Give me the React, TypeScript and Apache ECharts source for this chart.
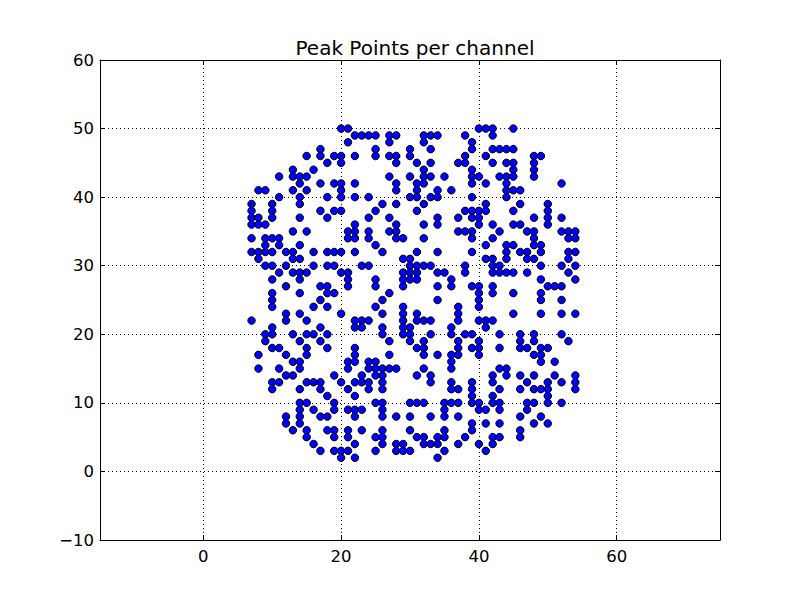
import React, { useEffect, useRef } from "react";
import * as echarts from "echarts";

// Peak points: for each y level, the x channels that hold a peak
const y50 = [20, 21, 40, 41, 42, 45];
const y49 = [22, 23, 24, 25, 27, 28, 32, 33, 34, 38, 42];
const y48 = [21, 27, 32, 39];
const y47 = [17, 25, 30, 33, 39, 42, 43, 44, 45];
const y46 = [15, 17, 19, 20, 22, 25, 27, 28, 30, 38, 41, 48, 49];
const y45 = [18, 20, 28, 31, 33, 37, 38, 42, 44, 45, 48];
const y44 = [13, 16, 32, 39, 45, 48];
const y43 = [11, 13, 14, 15, 27, 30, 32, 33, 35, 39, 40, 43, 44, 45, 48];
const y42 = [14, 17, 19, 20, 22, 28, 31, 32, 39, 41, 44, 52];
const y41 = [8, 9, 13, 15, 20, 28, 31, 34, 36, 44, 45, 46];
const y40 = [11, 14, 18, 20, 22, 24, 30, 31, 33, 34, 39, 44];
const y39 = [7, 10, 14, 26, 28, 32, 41, 46, 50];
const y38 = [7, 10, 17, 19, 20, 25, 31, 38, 39, 40, 41, 45, 50];
const y37 = [7, 8, 10, 14, 18, 24, 27, 34, 37, 39, 40, 48, 50, 52];
const y36 = [7, 8, 9, 22, 28, 32, 34, 40, 42, 45, 46, 50];
const y35 = [13, 15, 21, 22, 24, 27, 28, 37, 38, 39, 43, 47, 48, 52, 53, 54];
const y34 = [7, 9, 10, 11, 21, 22, 24, 28, 29, 32, 39, 42, 48, 53, 54];
const y33 = [9, 11, 14, 25, 41, 44, 45, 48, 49];
const y32 = [7, 8, 9, 10, 12, 13, 16, 18, 19, 20, 22, 26, 31, 34, 39, 44, 46, 47, 49, 53, 54];
const y31 = [8, 13, 14, 29, 30, 41, 42, 44, 47, 48, 53];
const y30 = [9, 10, 12, 16, 18, 19, 23, 24, 30, 31, 32, 33, 38, 42, 43, 49, 52, 54];
const y29 = [11, 13, 14, 15, 20, 21, 29, 30, 31, 34, 35, 38, 42, 43, 44, 45, 47, 53];
const y28 = [10, 14, 21, 25, 29, 30, 31, 36, 49, 54];
const y27 = [12, 17, 18, 21, 25, 29, 34, 36, 39, 40, 42, 50, 51, 52];
const y26 = [10, 14, 18, 19, 27, 40, 42, 45, 49];
const y25 = [10, 17, 26, 34, 40, 49, 52];
const y24 = [10, 16, 18, 25, 29, 37, 40];
const y23 = [12, 14, 20, 26, 29, 31, 37, 45, 49, 52, 54];
const y22 = [7, 12, 15, 22, 23, 24, 29, 31, 32, 33, 37, 40, 41, 42];
const y21 = [10, 17, 22, 23, 26, 29, 30, 36, 41];
const y20 = [9, 10, 13, 15, 16, 18, 26, 29, 30, 33, 36, 38, 39, 43, 46, 48, 52];
const y19 = [9, 14, 17, 27, 30, 32, 37, 40, 46, 48, 53];
const y18 = [10, 11, 15, 18, 22, 31, 32, 37, 39, 40, 43, 46, 47, 49, 50];
const y17 = [8, 12, 15, 22, 27, 32, 34, 36, 37, 40, 48, 49];
const y16 = [13, 14, 21, 22, 24, 25, 36, 49, 51];
const y15 = [8, 11, 14, 21, 24, 25, 26, 27, 28, 32, 36, 43, 44];
const y14 = [12, 13, 19, 23, 25, 26, 31, 33, 42, 44, 46, 48, 51, 54];
const y13 = [10, 11, 15, 16, 17, 20, 22, 23, 24, 26, 33, 36, 39, 42, 47, 50, 52, 54];
const y12 = [10, 14, 17, 21, 24, 26, 36, 37, 39, 43, 46, 48, 49, 50, 54];
const y11 = [18, 22, 39, 42, 50];
const y10 = [14, 15, 19, 25, 26, 30, 31, 32, 35, 36, 37, 39, 40, 42, 43, 47, 48, 50, 52];
const y9 = [14, 16, 19, 21, 22, 23, 26, 35, 40, 41, 43, 47];
const y8 = [12, 14, 17, 18, 22, 26, 28, 30, 33, 35, 37, 46, 49];
const y7 = [12, 14, 39, 41, 43, 48, 50];
const y6 = [13, 15, 18, 19, 21, 23, 26, 30, 35, 39, 46];
const y5 = [15, 19, 21, 25, 26, 31, 32, 34, 35, 38, 42, 43, 46];
const y4 = [16, 22, 26, 28, 29, 32, 33, 34, 37, 40, 42];
const y3 = [17, 19, 20, 21, 25, 28, 29, 30, 35, 41];
const y2 = [20, 22, 34];

const rows: [number, number[]][] = [
  [50, y50], [49, y49], [48, y48], [47, y47], [46, y46], [45, y45], [44, y44],
  [43, y43], [42, y42], [41, y41], [40, y40], [39, y39], [38, y38], [37, y37],
  [36, y36], [35, y35], [34, y34], [33, y33], [32, y32], [31, y31], [30, y30],
  [29, y29], [28, y28], [27, y27], [26, y26], [25, y25], [24, y24], [23, y23],
  [22, y22], [21, y21], [20, y20], [19, y19], [18, y18], [17, y17], [16, y16],
  [15, y15], [14, y14], [13, y13], [12, y12], [11, y11], [10, y10], [9, y9],
  [8, y8], [7, y7], [6, y6], [5, y5], [4, y4], [3, y3], [2, y2],
];

const xTicks = [0, 20, 40, 60];
const title = "Peak Points per channel";

const FONT = "DejaVu Sans";

export default function App() {
  const ref = useRef<HTMLDivElement>(null);
  useEffect(() => {
    if (!ref.current) return;
    const chart = echarts.init(ref.current, null, { renderer: "svg" });
    const data: number[][] = [];
    rows.forEach(([y, xs]) => xs.forEach((x) => data.push([x, y])));
    const fmt = (v: number) => (v < 0 ? "\u2212" + Math.abs(v) : String(v));
    const tickStyle = { color: "#000", width: 1 };
    chart.setOption({
      animation: false,
      backgroundColor: "#fff",
      title: {
        text: title,
        left: 410,
        textAlign: "center",
        top: 33,
        textStyle: { fontFamily: FONT, fontSize: 20, fontWeight: "normal", color: "#000" },
      },
      grid: { left: 100, right: 80, top: 60, bottom: 60, show: false },
      xAxis: [
        {
          type: "value",
          min: -15,
          max: 75,
          position: "bottom",
          axisLine: { show: true, onZero: false, lineStyle: tickStyle },
          axisTick: { show: true, inside: true, length: 5, customValues: xTicks, lineStyle: tickStyle },
          axisLabel: {
            customValues: xTicks,
            color: "#000",
            fontFamily: FONT,
            fontSize: 16.5,
            margin: 8,
            formatter: fmt,
          },
          splitLine: { show: true, lineStyle: { color: "#000", width: 1, type: [1, 3] } },
        },
        {
          type: "value",
          min: -15,
          max: 75,
          position: "top",
          axisLine: { show: true, onZero: false, lineStyle: tickStyle },
          axisTick: { show: true, inside: true, length: 5, customValues: xTicks, lineStyle: tickStyle },
          axisLabel: { show: false, customValues: xTicks },
          splitLine: { show: false },
        },
      ],
      yAxis: [
        {
          type: "value",
          min: -10,
          max: 60,
          interval: 10,
          position: "left",
          axisLine: { show: true, onZero: false, lineStyle: tickStyle },
          axisTick: { show: true, inside: true, length: 5, lineStyle: tickStyle },
          axisLabel: { color: "#000", fontFamily: FONT, fontSize: 16.5, margin: 6, formatter: fmt },
          splitLine: { show: true, lineStyle: { color: "#000", width: 1, type: [1, 3] } },
        },
        {
          type: "value",
          min: -10,
          max: 60,
          interval: 10,
          position: "right",
          axisLine: { show: true, onZero: false, lineStyle: tickStyle },
          axisTick: { show: true, inside: true, length: 5, lineStyle: tickStyle },
          axisLabel: { show: false },
          splitLine: { show: false },
        },
      ],
      series: [
        {
          type: "scatter",
          xAxisIndex: 0,
          yAxisIndex: 0,
          data,
          symbol: "circle",
          symbolSize: 7.5,
          itemStyle: { color: "#0000ff", borderColor: "#000", borderWidth: 1, opacity: 1 },
          emphasis: { disabled: true },
        },
      ],
    });
    return () => chart.dispose();
  }, []);
  return (
    <div
      ref={ref}
      style={{ position: "fixed", left: 0, top: 0, width: 800, height: 600, background: "#fff" }}
    />
  );
}
